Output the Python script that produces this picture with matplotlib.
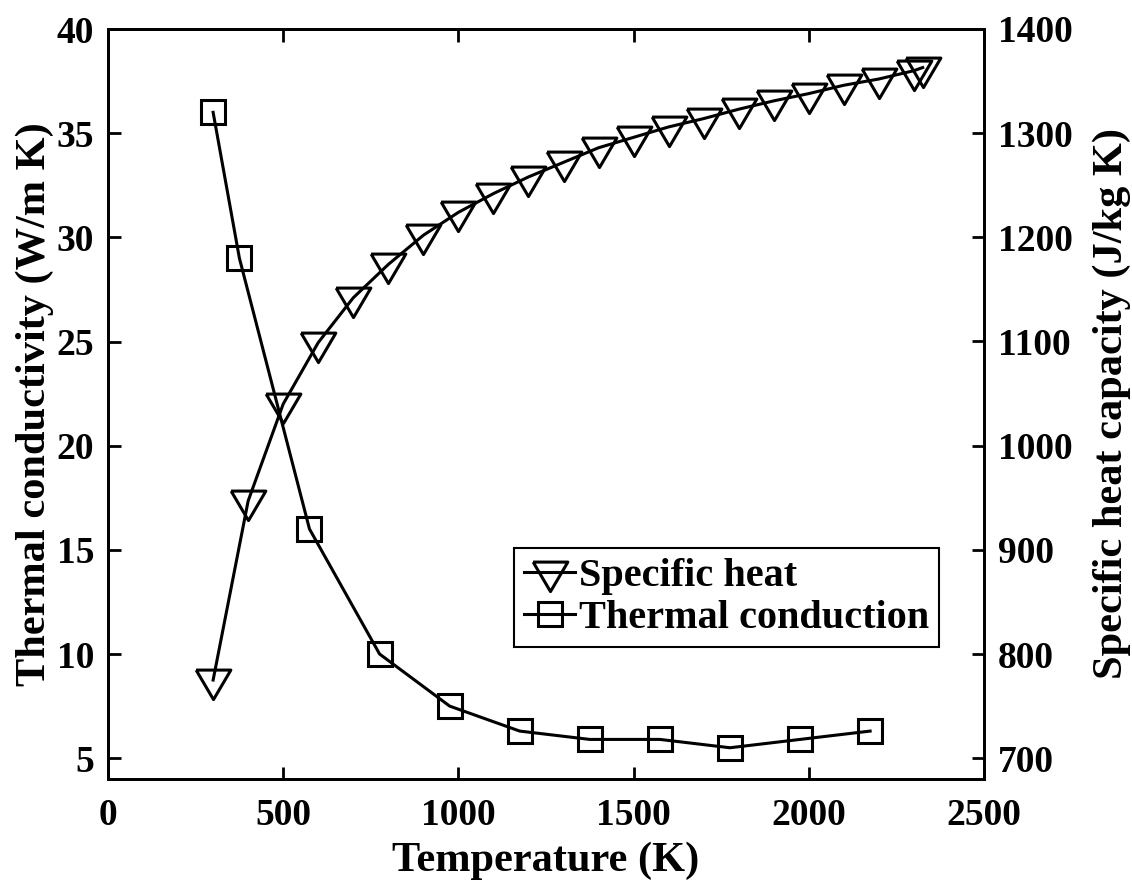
import matplotlib
matplotlib.use("Agg")
import matplotlib.pyplot as plt

# ---- data ----
temp_cp = [300, 400, 500, 600, 700, 800, 900, 1000, 1100, 1200, 1300, 1400,
           1500, 1600, 1700, 1800, 1900, 2000, 2100, 2200, 2300, 2325]
specific_heat = [775, 947, 1040, 1099, 1142, 1174, 1202, 1224, 1242, 1258, 1272,
                 1286, 1296, 1306, 1314, 1323, 1331, 1338, 1346, 1352, 1360, 1363]
temp_k = [300, 375, 575, 775, 975, 1175, 1375, 1575, 1775, 1975, 2175]
thermal_cond = [36, 29, 16, 10, 7.5, 6.3, 5.9, 5.9, 5.5, 5.9, 6.3]

x_ticks = [0, 500, 1000, 1500, 2000, 2500]
left_ticks = [5, 10, 15, 20, 25, 30, 35, 40]
right_ticks = [700, 800, 900, 1000, 1100, 1200, 1300, 1400]

plt.rcParams['font.family'] = ['Liberation Serif', 'DejaVu Serif']
plt.rcParams['font.weight'] = 'bold'

fig = plt.figure(figsize=(11.32, 8.89), dpi=100)
ax = fig.add_axes([108/1132, 1 - 779/889, (984-108)/1132, (779-29)/889])
ax2 = ax.twinx()

tri = [(-1, 0.6), (1, 0.6), (0, -1.1), (-1, 0.6)]

l2, = ax.plot(temp_k, thermal_cond, color='black', lw=2.2, marker='s', ms=17.5,
              mfc='none', mec='black', mew=2.2, label='Thermal conduction')
l1, = ax2.plot(temp_cp, specific_heat, color='black', lw=2.2, marker=tri, ms=27.5,
               mfc='none', mec='black', mew=2.2, label='Specific heat')

ax.set_xlim(0, 2500)
ax.set_ylim(4, 40)
ax2.set_ylim(680, 1400)
ax.set_xticks(x_ticks)
ax.set_yticks(left_ticks)
ax2.set_yticks(right_ticks)

tick_fs = 27
ax.tick_params(axis='x', direction='in', length=9, width=2, labelsize=tick_fs, pad=14, top=True)
ax.tick_params(axis='y', direction='in', length=9, width=2, labelsize=tick_fs, pad=10, right=False)
ax2.tick_params(axis='y', direction='in', length=9, width=2, labelsize=tick_fs, pad=10)
for a in (ax, ax2):
    for s in a.spines.values():
        s.set_linewidth(2.0)

label_fs = 30.5
ax.set_xlabel('Temperature (K)', fontsize=label_fs, fontweight='bold', labelpad=6)
ax.set_ylabel('Thermal conductivity (W/m K)', fontsize=label_fs, fontweight='bold', labelpad=2)
ax2.set_ylabel('Specific heat capacity (J/kg K)', fontsize=label_fs, fontweight='bold', labelpad=14)

leg = ax2.legend(handles=[l1, l2], loc='lower right', bbox_to_anchor=(0.9486, 0.176),
                 borderaxespad=0, fontsize=29, frameon=True, fancybox=False,
                 edgecolor='black', handlelength=1.25, handletextpad=0.1,
                 borderpad=0.25, labelspacing=0.12, markerscale=1.0)
leg.get_frame().set_linewidth(1.5)
leg.get_frame().set_alpha(1)

fig.savefig('out.png', dpi=100)
